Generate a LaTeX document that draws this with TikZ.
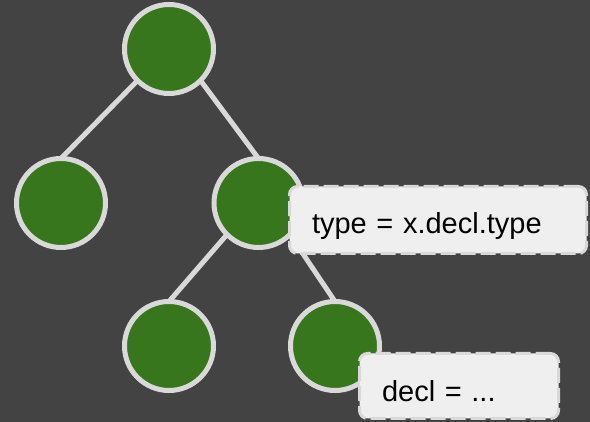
\documentclass[tikz,border=0pt]{standalone}
\usepackage{fontspec}
\setmainfont{Liberation Sans}
\usetikzlibrary{backgrounds}

\definecolor{canvas}{HTML}{434343}
\definecolor{leaf}{HTML}{38761D}
\definecolor{rim}{HTML}{D9D9D9}
\definecolor{notefill}{HTML}{EFEFEF}

\tikzset{
  treenode/.style={circle, fill=leaf, draw=rim, line width=5pt,
    minimum size=89pt, inner sep=0pt, outer sep=0pt},
  branch/.style={draw=rim, line width=5pt},
  notebox/.style={rectangle, rounded corners=8pt, fill=notefill, draw=rim,
    line width=3pt, dash pattern=on 15pt off 5pt, inner ysep=0pt,
    inner xsep=22.5pt, outer sep=0pt, align=left, anchor=base west,
    font=\fontsize{29pt}{34pt}\selectfont, text=black}
}

\begin{document}
\begin{tikzpicture}[x=1pt,y=-1pt]
  \begin{pgfonlayer}{background}
    \fill[canvas] (0,0) rectangle (590,422);
  \end{pgfonlayer}
  \useasboundingbox (0,0) rectangle (590,422);

  % tree nodes
  \node[treenode] (root) at (169,49) {};
  \node[treenode] (left) at (61,203) {};
  \node[treenode] (right) at (258.5,203) {};
  \node[treenode] (rl) at (169,346) {};
  \node[treenode] (rr) at (335,346) {};

  % branches behind the nodes
  \begin{pgfonlayer}{background}
    \draw[branch] (root.south west) -- (left.north);
    \draw[branch] (root.south east) -- (right.north);
    \draw[branch] (right.south west) -- (rl.north);
    \draw[branch] (right.south east) -- (rr.north);
  \end{pgfonlayer}

  % annotations
  \node[notebox, text width=252pt, text height=47.5pt, text depth=19.5pt]
    (typenote) at (289.5,234) {type = x.decl.type};
  \node[notebox, text width=154pt, text height=48.5pt, text depth=16.5pt]
    (declnote) at (359.5,402) {decl = ...};
\end{tikzpicture}
\end{document}
